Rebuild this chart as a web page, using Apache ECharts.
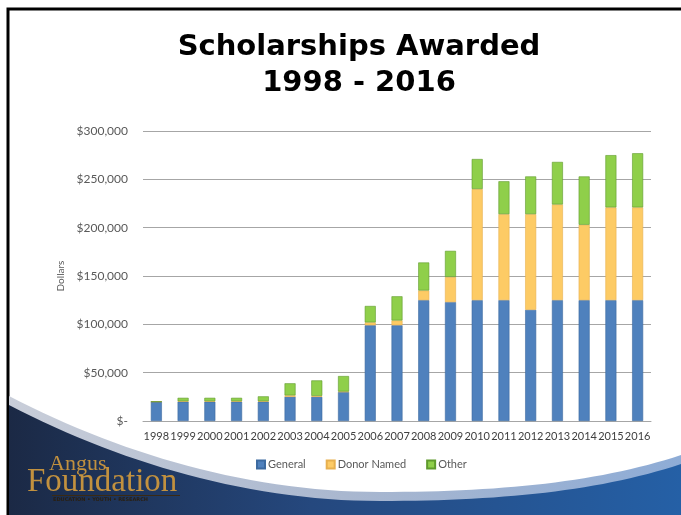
<!DOCTYPE html>
<html>
<head>
<meta charset="utf-8">
<script src="https://cdn.jsdelivr.net/npm/echarts@6/dist/echarts.min.js"></script>
<style>
  html, body { margin: 0; padding: 0; background: #fff; }
  #main { width: 681px; height: 515px; }
</style>
</head>
<body>
<div id="main"></div>
<script>
var years = ['1998', '1999', '2000', '2001', '2002', '2003', '2004', '2005', '2006', '2007',
    '2008', '2009', '2010', '2011', '2012', '2013', '2014', '2015', '2016'];
var general = [20000, 20000, 20000, 20000, 20000, 25000, 25000, 30000, 99000, 99000,
    125000, 123000, 125000, 125000, 115000, 125000, 125000, 125000, 125000];
var donorNamed = [0, 500, 500, 500, 500, 1500, 1000, 500, 3000, 5000,
    10000, 26000, 115000, 89000, 99000, 99000, 78000, 96000, 96000];
var other = [0, 3500, 3500, 3500, 5000, 12500, 16000, 16000, 17000, 25000,
    29000, 27000, 31000, 34000, 39000, 44000, 50000, 54000, 56000];
var yTicks = [0, 50000, 100000, 150000, 200000, 250000, 300000];

function money(v) {
    if (v == 0) return '$-';
    return '$' + v.toString().replace(/\B(?=(\d{3})+(?!\d))/g, ',');
}

function hGrad(stops) {
    return { type: 'linear', x: 0, y: 0, x2: 1, y2: 0, colorStops: stops };
}

// swoosh outline: two cubic segments, then closed along the bottom
function swoosh(dy) {
    var segs = [
        [[9, 396], [120, 454], [250, 492], [380, 492]],
        [[380, 492], [500, 492], [600, 482], [681, 455]]
    ];
    var pts = [];
    segs.forEach(function (s) {
        for (var i = 0; i <= 30; i++) {
            var t = i / 30, u = 1 - t;
            var x = u*u*u*s[0][0] + 3*u*u*t*s[1][0] + 3*u*t*t*s[2][0] + t*t*t*s[3][0];
            var y = u*u*u*s[0][1] + 3*u*u*t*s[1][1] + 3*u*t*t*s[2][1] + t*t*t*s[3][1];
            pts.push([x, y + dy]);
        }
    });
    pts.push([681, 515], [9, 515]);
    return pts;
}

var mychart = echarts.init(document.getElementById('main'));

// slide background: frame + swoosh + logo
var deco = [
    {
        type: 'rect', z: -10,
        shape: { x: 8, y: 9, width: 700, height: 540 },
        style: { fill: '#fff', stroke: '#000', lineWidth: 3 }
    },
    {
        type: 'polygon', z: -9,
        shape: { points: swoosh(0) },
        style: {
            fill: hGrad([
                { offset: 0, color: '#c9ced9' },
                { offset: 0.5, color: '#a9b7cf' },
                { offset: 1, color: '#8eacd6' }
            ])
        }
    },
    {
        type: 'polygon', z: -8,
        shape: { points: swoosh(9) },
        style: {
            fill: hGrad([
                { offset: 0, color: '#1b2945' },
                { offset: 0.45, color: '#25487e' },
                { offset: 1, color: '#2560a6' }
            ])
        }
    },
    {
        type: 'text', z: -7, left: 49, top: 453,
        style: { text: 'Angus', fill: '#c2913f', font: '22px "Liberation Serif"' }
    },
    {
        type: 'text', z: -7, left: 27, top: 466,
        style: { text: 'Foundation', fill: '#c2913f', font: '33px "Liberation Serif"' }
    },
    {
        type: 'rect', z: -7,
        shape: { x: 52, y: 495, width: 128, height: 1 },
        style: { fill: '#3a2a14' }
    },
    {
        type: 'text', z: -7, left: 53, top: 497,
        style: { text: 'EDUCATION • YOUTH • RESEARCH', fill: '#2a1f10', font: 'bold 5px "DejaVu Sans"' }
    }
];

var option = {
    backgroundColor: '#fff',
    animation: false,
    title: {
        text: 'Scholarships Awarded\n1998 - 2016',
        left: 359,
        top: 29,
        padding: 0,
        textAlign: 'center',
        textStyle: {
            fontFamily: 'DejaVu Sans',
            fontWeight: 'bold',
            fontSize: 29,
            lineHeight: 36,
            color: '#000'
        }
    },
    graphic: deco,
    legend: {
        data: ['General', 'Donor Named', 'Other'],
        top: 454,
        left: 251,
        itemWidth: 8,
        itemHeight: 8,
        itemGap: 20,
        icon: 'rect',
        textStyle: { color: '#595959', fontSize: 11, fontFamily: 'Lato', padding: [0, 0, 0, -2] }
    },
    grid: {
        left: 143,
        right: 30,
        top: 131,
        bottom: 94
    },
    xAxis: [
        {
            type: 'category',
            data: years,
            axisLine: { lineStyle: { color: '#a6a6a6' } },
            axisTick: { show: false },
            axisLabel: { color: '#404040', fontSize: 11, fontFamily: 'Lato', margin: 10, interval: 0 }
        }
    ],
    yAxis: [
        {
            type: 'value',
            min: yTicks[0],
            max: yTicks[yTicks.length - 1],
            interval: 50000,
            name: 'Dollars',
            nameLocation: 'middle',
            nameRotate: 90,
            nameGap: 77,
            nameTextStyle: { color: '#595959', fontSize: 10, fontFamily: 'Lato' },
            axisLine: { show: false },
            axisTick: { show: false },
            splitLine: { lineStyle: { color: '#a6a6a6' } },
            axisLabel: {
                color: '#595959', fontSize: 12, fontFamily: 'Lato', margin: 15,
                formatter: money
            }
        }
    ],
    series: [
        {
            name: 'General', type: 'bar', stack: 'all', data: general, barWidth: 11,
            itemStyle: { color: '#4f81bd', borderColor: '#3c6aa0', borderWidth: 0.6 }
        },
        {
            name: 'Donor Named', type: 'bar', stack: 'all', data: donorNamed, barWidth: 11,
            itemStyle: { color: '#fdcb65', borderColor: '#e7b04f', borderWidth: 0.6 }
        },
        {
            name: 'Other', type: 'bar', stack: 'all', data: other, barWidth: 11,
            itemStyle: { color: '#8fcf4a', borderColor: '#5f9a2d', borderWidth: 0.6 }
        }
    ]
};
mychart.setOption(option);
</script>
</body>
</html>
